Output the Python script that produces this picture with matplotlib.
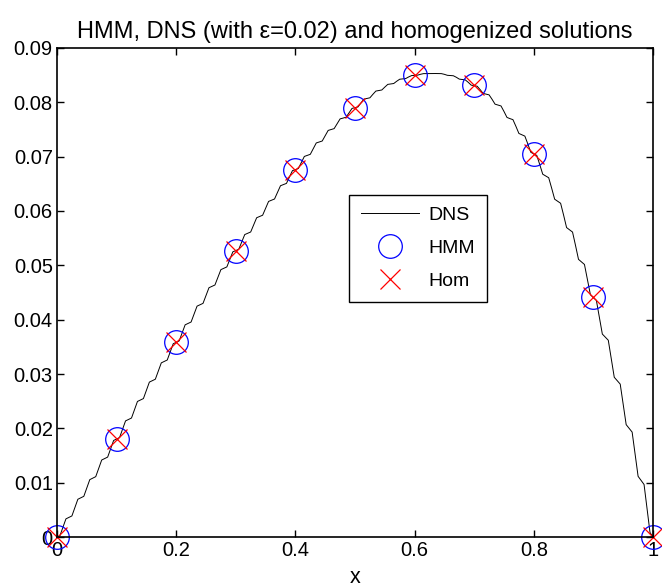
import numpy as np
import matplotlib
matplotlib.use("Agg")
import matplotlib.pyplot as plt

# HMM / homogenized nodes
x_nodes = [0.0, 0.1, 0.2, 0.3, 0.4, 0.5, 0.6, 0.7, 0.8, 0.9, 1.0]
hmm_vals = [0.0, 0.0180, 0.0358, 0.0527, 0.0676, 0.0790, 0.0850, 0.0831, 0.0705, 0.0441, 0.0]
hom_vals = [0.0, 0.0180, 0.0358, 0.0527, 0.0676, 0.0790, 0.0850, 0.0831, 0.0705, 0.0441, 0.0]

# DNS curve, read every 0.005 in x
dns_vals = [
    0.00000, 0.00027, 0.00181, 0.00334, 0.00361, 0.00388, 0.00542, 0.00695, 0.00722, 0.00749,
    0.00903, 0.01056, 0.01083, 0.01111, 0.01264, 0.01417, 0.01444, 0.01471, 0.01624, 0.01777,
    0.01804, 0.01831, 0.01984, 0.02137, 0.02164, 0.02190, 0.02343, 0.02495, 0.02522, 0.02548,
    0.02700, 0.02851, 0.02878, 0.02904, 0.03055, 0.03205, 0.03232, 0.03258, 0.03408, 0.03557,
    0.03583, 0.03609, 0.03758, 0.03905, 0.03931, 0.03957, 0.04103, 0.04249, 0.04275, 0.04300,
    0.04445, 0.04588, 0.04613, 0.04638, 0.04780, 0.04921, 0.04946, 0.04971, 0.05110, 0.05248,
    0.05272, 0.05296, 0.05432, 0.05566, 0.05590, 0.05614, 0.05746, 0.05876, 0.05899, 0.05922,
    0.06050, 0.06176, 0.06198, 0.06221, 0.06344, 0.06465, 0.06486, 0.06508, 0.06626, 0.06742,
    0.06762, 0.06782, 0.06894, 0.07004, 0.07023, 0.07043, 0.07148, 0.07252, 0.07270, 0.07288,
    0.07386, 0.07483, 0.07499, 0.07516, 0.07607, 0.07695, 0.07710, 0.07725, 0.07808, 0.07888,
    0.07901, 0.07915, 0.07989, 0.08059, 0.08071, 0.08083, 0.08147, 0.08207, 0.08217, 0.08227,
    0.08280, 0.08330, 0.08338, 0.08346, 0.08388, 0.08425, 0.08431, 0.08437, 0.08467, 0.08492,
    0.08495, 0.08500, 0.08516, 0.08528, 0.08529, 0.08530, 0.08533, 0.08530, 0.08528, 0.08528,
    0.08515, 0.08497, 0.08493, 0.08489, 0.08461, 0.08427, 0.08419, 0.08413, 0.08368, 0.08316,
    0.08306, 0.08296, 0.08233, 0.08164, 0.08150, 0.08137, 0.08055, 0.07966, 0.07949, 0.07933,
    0.07831, 0.07722, 0.07700, 0.07681, 0.07558, 0.07427, 0.07402, 0.07378, 0.07233, 0.07080,
    0.07051, 0.07023, 0.06854, 0.06677, 0.06644, 0.06612, 0.06419, 0.06217, 0.06179, 0.06142,
    0.05924, 0.05695, 0.05653, 0.05612, 0.05366, 0.05110, 0.05062, 0.05016, 0.04742, 0.04458,
    0.04405, 0.04354, 0.04050, 0.03735, 0.03677, 0.03621, 0.03286, 0.02940, 0.02876, 0.02814,
    0.02447, 0.02068, 0.01998, 0.01931, 0.01530, 0.01117, 0.01041, 0.00967, 0.00531, 0.00082,
    0.00000,
]

x_dns = np.linspace(0, 1, len(dns_vals))

plt.rcParams["font.family"] = ["Liberation Sans", "DejaVu Sans"]

fig = plt.figure(figsize=(6.62, 5.88), dpi=100)
ax = fig.add_axes([0.0861, 0.0867, 0.9003, 0.8317])

ax.plot(x_dns, dns_vals, color="black", lw=0.7, label="DNS")
ax.plot(x_nodes, hmm_vals, "o", ms=17, mfc="none", mec="blue", mew=0.9,
        label="HMM", clip_on=False)
ax.plot(x_nodes, hom_vals, "x", ms=15, mec="red", mew=0.9,
        label="Hom", clip_on=False)

ax.set_xlim(0, 1)
ax.set_ylim(0, 0.09)
ax.set_xticks([0, 0.2, 0.4, 0.6, 0.8, 1])
ax.set_xticklabels(["0", "0.2", "0.4", "0.6", "0.8", "1"])
ax.set_yticks([0, 0.01, 0.02, 0.03, 0.04, 0.05, 0.06, 0.07, 0.08, 0.09])
ax.set_yticklabels(["0", "0.01", "0.02", "0.03", "0.04", "0.05", "0.06",
                    "0.07", "0.08", "0.09"])
ax.tick_params(direction="in", length=5, width=1, labelsize=14.5,
               top=True, right=True, pad=3)
for sp in ax.spines.values():
    sp.set_linewidth(1.2)

ax.set_title("HMM, DNS (with \u03b5=0.02) and homogenized solutions", fontsize=17, pad=7)
ax.set_xlabel("x", fontsize=15.5, labelpad=5)

leg = ax.legend(loc="upper left", bbox_to_anchor=(0.49, 0.70), borderaxespad=0,
                fontsize=14, fancybox=False, edgecolor="black", framealpha=1,
                handlelength=3.0, handletextpad=0.5, borderpad=0.6, labelspacing=0.8)
leg.get_frame().set_linewidth(1.0)

fig.savefig("out.png", dpi=100)
